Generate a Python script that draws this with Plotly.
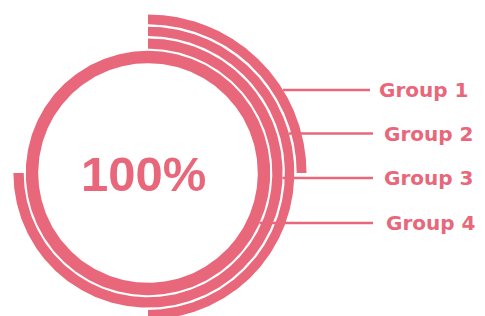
import numpy as np
import plotly.graph_objects as go

# ---- data ----
categories = ["Group 1", "Group 2", "Group 3", "Group 4"]
values = [25, 50, 75, 100]          # percent of a full turn
center_label = "100%"

# ---- style / layout ----
COLOR = "#e8677a"
W, H = 485, 316
CX, CY = 148, 173
outer_r = [158.5, 146.3, 134.6, 122.2]
inner_r = [148.7, 136.9, 124.3, 109.8]
line_y = [90, 133.5, 178, 223]
line_end_x = [370, 373, 373, 373]
label_x = [377, 382, 382, 384]

fig = go.Figure()

for cat, v, ro, ri in zip(categories, values, outer_r, inner_r):
    span = np.deg2rad(v / 100 * 360)
    t = np.linspace(0, span, 400)
    xo = CX + ro * np.sin(t)
    yo = CY - ro * np.cos(t)
    xi = CX + ri * np.sin(t[::-1])
    yi = CY - ri * np.cos(t[::-1])
    fig.add_trace(go.Scatter(
        x=np.concatenate([xo, xi]), y=np.concatenate([yo, yi]),
        mode="lines", fill="toself", fillcolor=COLOR,
        line=dict(width=0, color=COLOR), hoverinfo="skip",
        showlegend=False, name=cat))

# leader lines from each ring's outer edge to its label
for cat, ro, ly, lx in zip(categories, outer_r, line_y, line_end_x):
    x0 = CX + np.sqrt(ro ** 2 - (ly - CY) ** 2)
    fig.add_trace(go.Scatter(
        x=[x0, lx], y=[ly, ly], mode="lines",
        line=dict(width=2.5, color=COLOR), hoverinfo="skip",
        showlegend=False))

for cat, ly, tx in zip(categories, line_y, label_x):
    fig.add_annotation(
        x=tx, y=ly, text=cat, showarrow=False, xanchor="left", yanchor="middle",
        font=dict(family="DejaVu Sans", size=20, color=COLOR, weight="bold"))

fig.add_annotation(
    x=143.5, y=173.5, text=center_label, showarrow=False,
    xanchor="center", yanchor="middle",
    font=dict(family="Liberation Sans", size=49, color=COLOR, weight="bold"))

fig.update_layout(
    width=W, height=H, margin=dict(l=0, r=0, t=0, b=0),
    paper_bgcolor="white", plot_bgcolor="white",
    xaxis=dict(range=[0, W], visible=False, fixedrange=True),
    yaxis=dict(range=[H, 0], visible=False, fixedrange=True),
)

fig.write_html("out.html", config={"displayModeBar": False},
               post_script="document.body.style.margin='0px';")
